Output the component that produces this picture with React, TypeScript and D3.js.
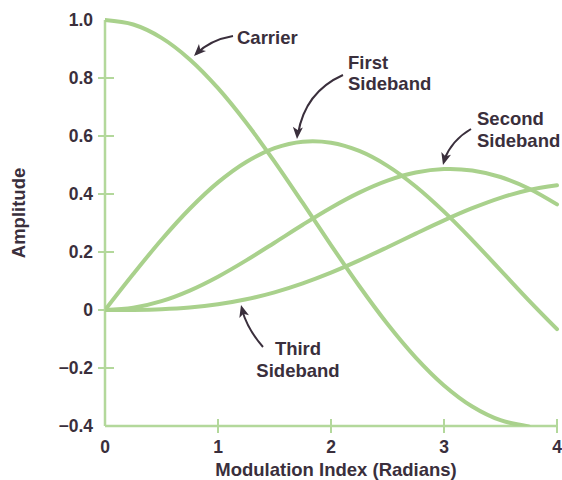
import React from "react";
import * as d3 from "d3";

const xValues = [0, 0.25, 0.5, 0.75, 1, 1.25, 1.5, 1.75, 2, 2.25, 2.5, 2.75, 3, 3.25, 3.5, 3.75, 4];
const carrier = [1, 0.9844, 0.9385, 0.8642, 0.7652, 0.6459, 0.5118, 0.369, 0.2239, 0.0827, -0.0484, -0.1641, -0.2601, -0.3328, -0.3801, -0.4014];
const firstSideband = [0, 0.124, 0.2423, 0.3492, 0.4401, 0.5106, 0.5579, 0.5802, 0.5767, 0.5484, 0.4971, 0.426, 0.3391, 0.2411, 0.1374, 0.0334, -0.066];
const secondSideband = [0, 0.0078, 0.0306, 0.0671, 0.1149, 0.1711, 0.2321, 0.294, 0.3528, 0.4047, 0.4461, 0.4739, 0.4861, 0.4812, 0.4586, 0.4191, 0.3641];
const thirdSideband = [0, 0.0003, 0.0026, 0.0085, 0.0196, 0.0369, 0.061, 0.0919, 0.1289, 0.1711, 0.2166, 0.2634, 0.3091, 0.351, 0.3868, 0.414, 0.4302];

const xTicks = [0, 1, 2, 3, 4];
const yTicks = [1.0, 0.8, 0.6, 0.4, 0.2, 0, -0.2, -0.4];
const yTickLabels = ["1.0", "0.8", "0.6", "0.4", "0.2", "0", "\u22120.2", "\u22120.4"];

const W = 562;
const H = 480;
const GREEN = "#a9d18c";
const AXIS = "#b3d89b";
const INK = "#3a2f3c";
const FONT = "'Liberation Sans', Arial, Helvetica, sans-serif";

export default function App() {
  const x = d3.scaleLinear().domain([0, 4]).range([105, 557]);
  const y = d3.scaleLinear().domain([-0.4, 1.0]).range([426, 20]);
  const series = [carrier, firstSideband, secondSideband, thirdSideband];
  const line = d3
    .line<number>()
    .x((_, i) => x(xValues[i]))
    .y((d) => y(d))
    .curve(d3.curveCatmullRom.alpha(0.5));

  const arrows = [
    { d: "M233,36 Q210,40 196,54", tip: [194, 56], from: [205, 45] },
    { d: "M343,75 Q305,92 298,134", tip: [297, 139], from: [298, 125] },
    { d: "M471,129 Q452,140 444,160", tip: [443, 165], from: [446, 154] },
    { d: "M263,347 Q248,330 242,310", tip: [241, 305], from: [244, 316] },
  ];

  const head = (tip: number[], from: number[]) => {
    const dx = tip[0] - from[0];
    const dy = tip[1] - from[1];
    const len = Math.hypot(dx, dy);
    const ux = dx / len, uy = dy / len;
    const L = 12, Wd = 5;
    const bx = tip[0] - ux * L, by = tip[1] - uy * L;
    return `M${tip[0]},${tip[1]} L${bx - uy * Wd},${by + ux * Wd} L${bx + ux * 3},${by + uy * 3} L${bx + uy * Wd},${by - ux * Wd} Z`;
  };

  return (
    <svg width={W} height={H} style={{ position: "absolute", left: 0, top: 0, background: "#fff" }} fontFamily={FONT}>
      <defs>
        <clipPath id="plot">
          <rect x={105} y={0} width={460} height={426} />
        </clipPath>
      </defs>
      {/* axes */}
      <line x1={x(0)} x2={x(0)} y1={y(1.0)} y2={y(-0.4)} stroke={AXIS} strokeWidth={2.5} />
      <line x1={x(0)} x2={x(4)} y1={y(-0.4)} y2={y(-0.4)} stroke={AXIS} strokeWidth={2.5} />
      {yTicks.map((t, i) =>
        t === 1.0 || t === -0.4 ? null : (
          <line key={i} x1={x(0) - 7} x2={x(0) + 9} y1={y(t)} y2={y(t)} stroke={AXIS} strokeWidth={2} />
        )
      )}
      {xTicks.map((t, i) =>
        t === 0 ? null : (
          <line key={i} x1={x(t)} x2={x(t)} y1={y(-0.4) - 7} y2={y(-0.4) + 7} stroke={AXIS} strokeWidth={2} />
        )
      )}
      {yTicks.map((t, i) => (
        <text key={i} x={93} y={y(t)} dy="0.36em" textAnchor="end" fontSize={17.5} fontWeight="bold" fill={INK}>
          {yTickLabels[i]}
        </text>
      ))}
      {xTicks.map((t, i) => (
        <text key={i} x={x(t)} y={453} textAnchor="middle" fontSize={17.5} fontWeight="bold" fill={INK}>
          {String(t)}
        </text>
      ))}
      <text x={336} y={476} textAnchor="middle" fontSize={18.5} fontWeight="bold" fill={INK}>
        Modulation Index (Radians)
      </text>
      <text transform="translate(25,213) rotate(-90)" textAnchor="middle" fontSize={18.5} fontWeight="bold" fill={INK}>
        Amplitude
      </text>
      {/* curves */}
      <g clipPath="url(#plot)">
        {series.map((s, i) => (
          <path key={i} d={line(s) || ""} fill="none" stroke={GREEN} strokeWidth={4} strokeLinecap="round" />
        ))}
      </g>
      {/* annotations */}
      {arrows.map((a, i) => (
        <g key={i}>
          <path d={a.d} fill="none" stroke={INK} strokeWidth={2} />
          <path d={head(a.tip, a.from)} fill={INK} />
        </g>
      ))}
      <g fontSize={18.5} fontWeight="bold" fill={INK}>
        <text x={237} y={44}>Carrier</text>
        <text x={348} y={69}>First</text>
        <text x={348} y={90}>Sideband</text>
        <text x={477} y={125}>Second</text>
        <text x={477} y={147}>Sideband</text>
        <text x={298} y={355} textAnchor="middle">Third</text>
        <text x={298} y={377} textAnchor="middle">Sideband</text>
      </g>
    </svg>
  );
}
